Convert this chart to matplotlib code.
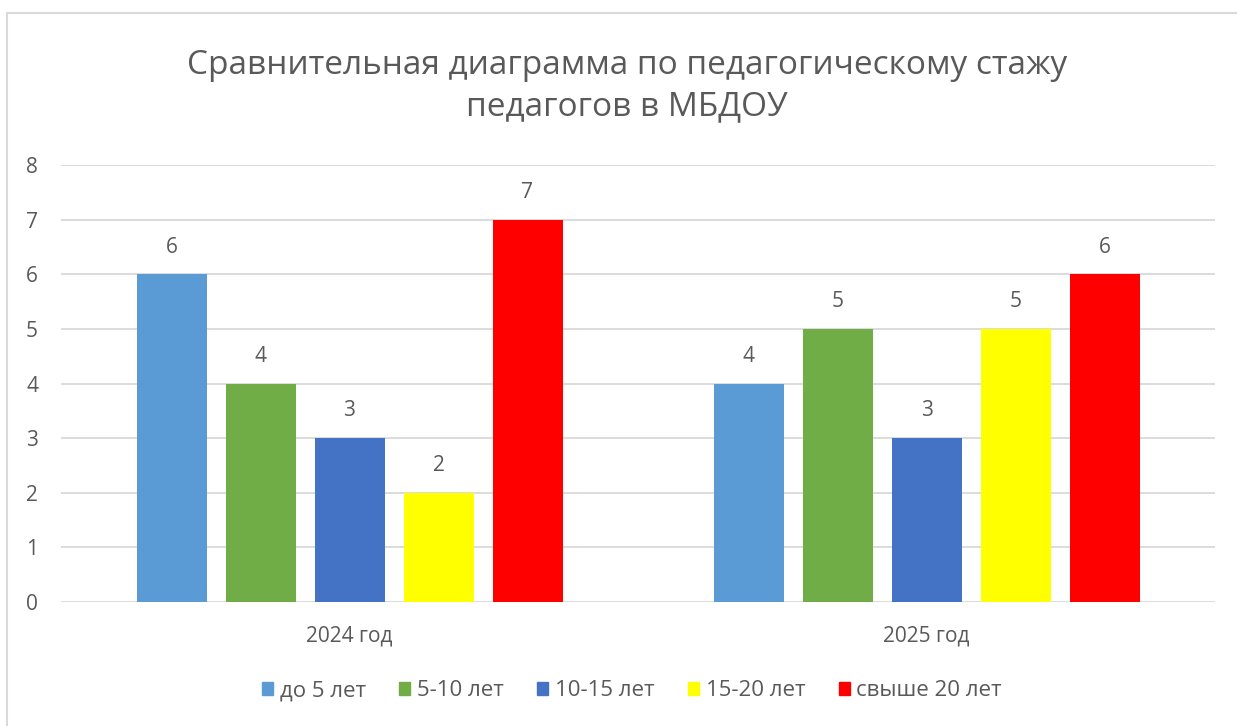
import matplotlib.pyplot as plt
import matplotlib.patches as mpatches
import numpy as np

plt.rcParams['font.family'] = ['Open Sans', 'DejaVu Sans']

years = ['2024 год', '2025 год']
groups = ['до 5 лет', '5-10 лет', '10-15 лет', '15-20 лет', 'свыше 20 лет']
values = {
    'до 5 лет': [6, 4],
    '5-10 лет': [4, 5],
    '10-15 лет': [3, 3],
    '15-20 лет': [2, 5],
    'свыше 20 лет': [7, 6],
}
colors = ['#5B9BD5', '#70AD47', '#4472C4', '#FFFF00', '#FF0000']
title = 'Сравнительная диаграмма по педагогическому стажу\nпедагогов в МБДОУ'
text_color = '#595959'

fig = plt.figure(figsize=(12.37, 7.26), dpi=100)
# outer chart frame
fig.patches.append(mpatches.Rectangle((7 / 1237, -0.05), 1.1, 1 - 13 / 726 + 0.05,
                                      transform=fig.transFigure, fill=False,
                                      edgecolor='#D9D9D9', linewidth=1.5))
ax = fig.add_axes([61 / 1237, 1 - 602 / 726, (1215 - 61) / 1237, (602 - 165) / 726])

x = np.arange(len(years))
width = 70 / 577
step = 89 / 577
for i, (g, col) in enumerate(zip(groups, colors)):
    pos = x + (i - 2) * step
    bars = ax.bar(pos, values[g], width, color=col, label=g, zorder=3)
    for b, v in zip(bars, values[g]):
        ax.annotate(str(v), (b.get_x() + b.get_width() / 2, v), xytext=(0, 12),
                    textcoords='offset points', ha='center', va='bottom',
                    fontsize=15, color=text_color)

ax.set_xlim(-0.5, 1.5)
ax.set_ylim(0, 8)
ax.set_yticks(range(0, 9))
ax.yaxis.grid(True, color='#D9D9D9', linewidth=1.3, zorder=0)
ax.set_axisbelow(True)
for s in ax.spines.values():
    s.set_visible(False)
ax.tick_params(axis='both', length=0, labelsize=15, labelcolor=text_color)
ax.tick_params(axis='y', pad=16.5)
ax.tick_params(axis='x', pad=17)
ax.set_xticks(x)
ax.set_xticklabels(years)

fig.text(627 / 1237, 1 - 86 / 726, title, ha='center', va='center',
         fontsize=24, color=text_color, linespacing=1.35)

handles = [mpatches.Patch(color=c) for c in colors]
fig.legend(handles, groups, loc='center', bbox_to_anchor=(632 / 1237, 1 - 691 / 726),
           ncol=5, frameon=False, fontsize=16, labelcolor=text_color,
           handlelength=0.5, handleheight=0.55, handletextpad=0.3, columnspacing=1.5)

fig.savefig('out.png', dpi=100)
